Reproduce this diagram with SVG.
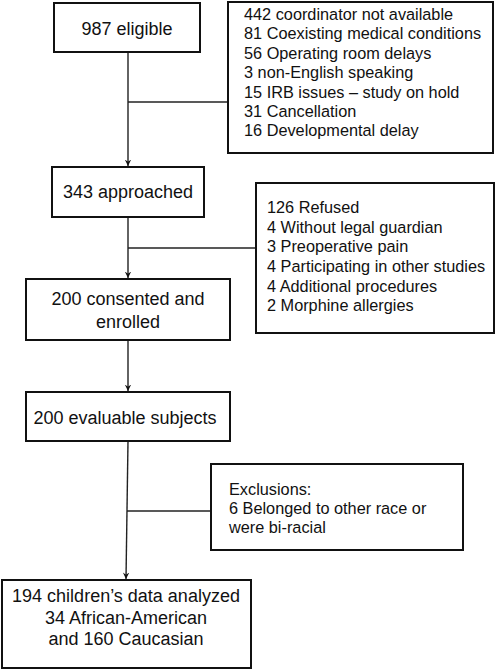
<svg xmlns="http://www.w3.org/2000/svg" width="497" height="669" viewBox="0 0 497 669">
<style>
.box{fill:#fff;stroke:#111;stroke-width:2}
.t{font-family:"Liberation Sans",Arial,sans-serif;font-size:18px;fill:#111;text-anchor:middle}
.s{font-family:"Liberation Sans",Arial,sans-serif;font-size:16.3px;fill:#111}
.c{fill:none;stroke:#222;stroke-width:1.4}
</style>
<defs>
<marker id="ah" markerWidth="8" markerHeight="8" refX="6.5" refY="4" orient="auto" markerUnits="userSpaceOnUse" viewBox="0 0 8 8">
<path d="M0,0.8 L6.5,4 L0,7.2 L2.2,4 Z" fill="#111"/>
</marker>
</defs>
<rect width="497" height="669" fill="#fff"/>
<g id="connectors">
<line class="c" x1="128" y1="52" x2="128" y2="166" marker-end="url(#ah)"/>
<line class="c" x1="128" y1="102" x2="228" y2="102"/>
<line class="c" x1="128" y1="217" x2="128" y2="278" marker-end="url(#ah)"/>
<line class="c" x1="128" y1="248" x2="256" y2="248"/>
<line class="c" x1="128" y1="340" x2="128" y2="391" marker-end="url(#ah)"/>
<line class="c" x1="128" y1="441" x2="126" y2="579" marker-end="url(#ah)"/>
<line class="c" x1="127" y1="511" x2="211" y2="511"/>
</g>
<g id="n1">
<rect class="box" x="54" y="3" width="146" height="49"/>
<text class="t" x="127" y="35">987 eligible</text>
</g>
<g id="n2">
<rect class="box" x="228" y="2" width="265" height="151"/>
<text class="s" x="244" y="20">442 coordinator not available</text>
<text class="s" x="244" y="39">81 Coexisting medical conditions</text>
<text class="s" x="244" y="59">56 Operating room delays</text>
<text class="s" x="244" y="78">3 non-English speaking</text>
<text class="s" x="244" y="98">15 IRB issues – study on hold</text>
<text class="s" x="244" y="117">31 Cancellation</text>
<text class="s" x="244" y="136">16 Developmental delay</text>
</g>
<g id="n3">
<rect class="box" x="52" y="167" width="152" height="50"/>
<text class="t" x="128" y="198">343 approached</text>
</g>
<g id="n4">
<rect class="box" x="256" y="183" width="238" height="150"/>
<text class="s" x="267" y="213">126 Refused</text>
<text class="s" x="267" y="233">4 Without legal guardian</text>
<text class="s" x="267" y="252">3 Preoperative pain</text>
<text class="s" x="267" y="272">4 Participating in other studies</text>
<text class="s" x="267" y="292">4 Additional procedures</text>
<text class="s" x="267" y="311">2 Morphine allergies</text>
</g>
<g id="n5">
<rect class="box" x="26" y="279" width="204" height="61"/>
<text class="t" x="128" y="305">200 consented and</text>
<text class="t" x="128" y="328">enrolled</text>
</g>
<g id="n6">
<rect class="box" x="26" y="392" width="204" height="49"/>
<text class="t" x="125" y="424">200 evaluable subjects</text>
</g>
<g id="n7">
<rect class="box" x="211" y="464" width="252" height="86"/>
<text class="s" x="229" y="495">Exclusions:</text>
<text class="s" x="229" y="514">6 Belonged to other race or</text>
<text class="s" x="229" y="533">were bi-racial</text>
</g>
<g id="n8">
<rect class="box" x="2" y="580" width="249" height="88"/>
<text class="t" x="126" y="602">194 children’s data analyzed</text>
<text class="t" x="126" y="624">34 African-American</text>
<text class="t" x="126" y="645">and 160 Caucasian</text>
</g>
</svg>
